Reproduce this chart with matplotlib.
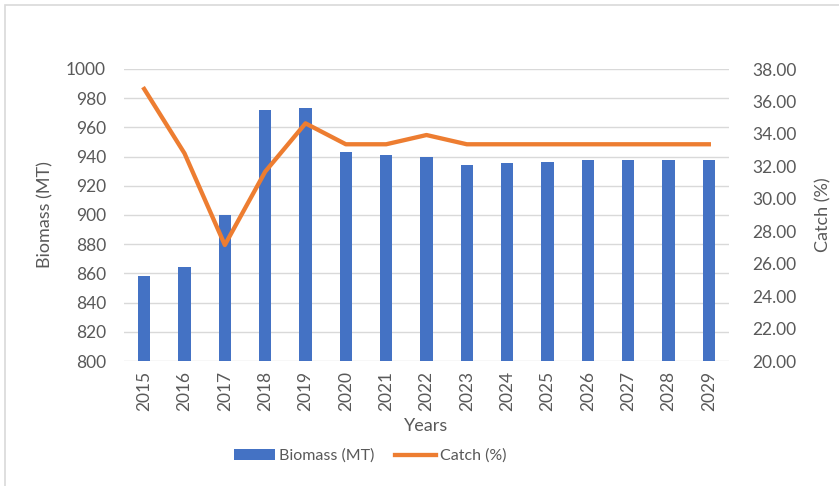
import matplotlib
matplotlib.use("Agg")
import matplotlib.pyplot as plt
from matplotlib.patches import Rectangle
import numpy as np

years = [str(y) for y in range(2015, 2030)]
biomass = [858.4, 864.2, 899.8, 971.7, 973.0, 943.2, 940.9, 940.0, 934.0,
           935.4, 936.3, 937.7, 937.7, 937.7, 937.7]
catch_pct = [36.77, 32.80, 27.15, 31.67, 34.65, 33.36, 33.36, 33.93, 33.36,
             33.36, 33.36, 33.36, 33.36, 33.36, 33.36]

C_BAR = "#4472C4"
C_LINE = "#ED7D31"
C_TXT = "#595959"
C_GRID = "#D9D9D9"

plt.rcParams["font.family"] = ["Lato", "DejaVu Sans"]

fig = plt.figure(figsize=(8.39, 4.86), dpi=100)
fig.patches.append(Rectangle((5 / 839, -0.1), 1.2, 1 - 5 / 486 + 0.1,
                             transform=fig.transFigure, fill=False,
                             edgecolor="#D9D9D9", linewidth=1.2))

ax = fig.add_axes([124 / 839, 1 - 361 / 486, (729 - 124) / 839, (361 - 69) / 486])
x = np.arange(len(years))
ax.bar(x, biomass, width=0.3, color=C_BAR, label="Biomass (MT)", zorder=2)
ax.set_ylim(800, 1000)
ax.set_yticks(range(800, 1001, 20))
ax.set_xlim(-0.5, len(years) - 0.5)
ax.set_xticks(x)
ax.set_xticklabels(years, rotation=90)
ax.grid(axis="y", color=C_GRID, linewidth=1, zorder=0)
ax.set_axisbelow(True)
for s in ax.spines.values():
    s.set_visible(False)
ax.tick_params(length=0, colors=C_TXT, labelsize=12.5)
ax.tick_params(axis="y", pad=13)
ax.tick_params(axis="x", pad=7)
ax.set_ylabel("Biomass (MT)", color=C_TXT, fontsize=13, labelpad=9)
ax.set_xlabel("Years", color=C_TXT, fontsize=13, labelpad=5)

ax2 = ax.twinx()
ax2.plot(x, catch_pct, color=C_LINE, linewidth=3.1, label="Catch (%)",
         solid_joinstyle="round", zorder=3)
ax2.set_ylim(20, 38)
ax2.set_yticks(np.arange(20, 38.1, 2))
ax2.set_yticklabels([f"{v:.2f}" for v in np.arange(20, 38.1, 2)])
for s in ax2.spines.values():
    s.set_visible(False)
ax2.tick_params(length=0, colors=C_TXT, labelsize=12.5, pad=17)
ax2.set_ylabel("Catch (%)", color=C_TXT, fontsize=13, labelpad=13)

h1, l1 = ax.get_legend_handles_labels()
h2, l2 = ax2.get_legend_handles_labels()
leg = fig.legend(h1 + h2, l1 + l2, loc="center", ncol=2,
                 bbox_to_anchor=(370 / 839, 1 - 456 / 486), frameon=False,
                 fontsize=11.5, handlelength=2.6, handletextpad=0.2,
                 columnspacing=1.3)
for t in leg.get_texts():
    t.set_color(C_TXT)

fig.savefig("out.png", dpi=100, facecolor="white")
